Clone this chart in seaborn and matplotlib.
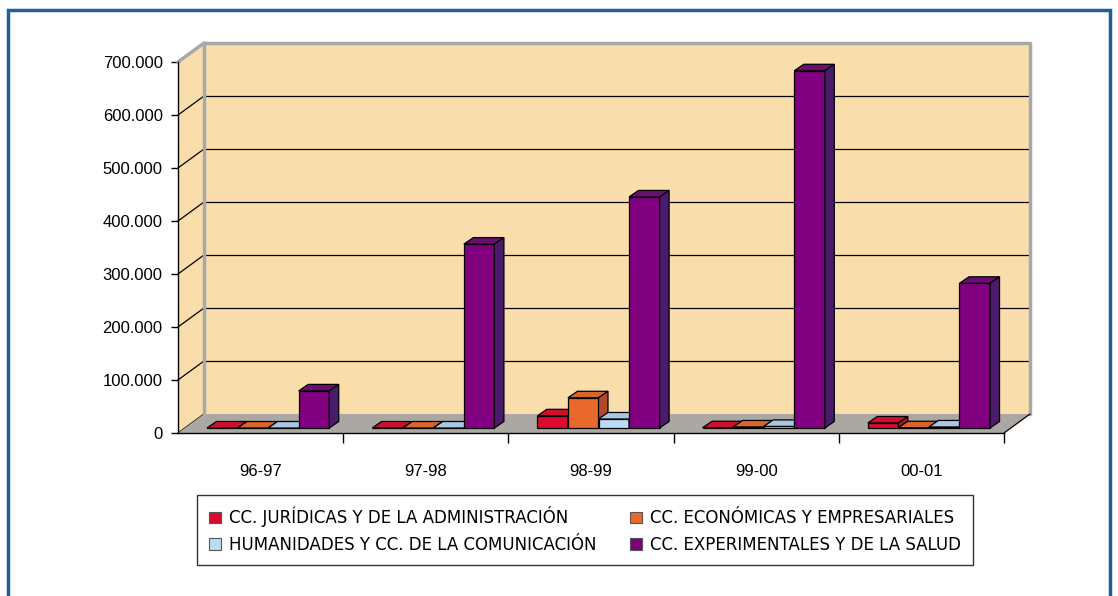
import numpy as np
import pandas as pd
import seaborn as sns
import matplotlib.pyplot as plt
from matplotlib.patches import Polygon, Rectangle, Patch
from matplotlib.lines import Line2D
from matplotlib.transforms import Affine2D, IdentityTransform
from matplotlib.ticker import FuncFormatter, MultipleLocator, FixedLocator

cursos = ['96-97', '97-98', '98-99', '99-00', '00-01']
areas = ['CC. JURÍDICAS Y DE LA ADMINISTRACIÓN',
         'CC. ECONÓMICAS Y EMPRESARIALES',
         'HUMANIDADES Y CC. DE LA COMUNICACIÓN',
         'CC. EXPERIMENTALES Y DE LA SALUD']
juridicas = [0, 0, 23000, 500, 9500]
economicas = [0, 0, 57000, 2000, 500]
humanidades = [0, 0, 17000, 3000, 2000]
experimentales = [70000, 347000, 436000, 674000, 273000]

# colours: front face, top face, side face
front_c = ['#DC0A2E', '#E8692B', '#BBDCF3', '#800080']
top_c = ['#CF0E30', '#D8652A', '#A7C7E2', '#6A0E72']
side_c = ['#A2142E', '#B0492E', '#8DAFCD', '#4A1A6B']
wheat = '#F9DEAC'
floor_gray = '#ABA8A3'

df = pd.DataFrame(dict(zip(areas, [juridicas, economicas, humanidades, experimentales])),
                  index=cursos).reset_index(names='curso')
df = df.melt(id_vars='curso', var_name='area', value_name='valor')

sns.set_theme(style='white')
plt.rcParams['font.family'] = ['Liberation Sans', 'DejaVu Sans']
plt.rcParams['text.color'] = 'black'
plt.rcParams['xtick.color'] = 'black'
plt.rcParams['ytick.color'] = 'black'
plt.rcParams['xtick.labelcolor'] = 'black'
plt.rcParams['ytick.labelcolor'] = 'black'

W, H = 1118, 596
fig = plt.figure(figsize=(W / 100, H / 100), dpi=100)
ax = fig.add_axes([178 / W, 1 - 433 / H, (1004 - 178) / W, (433 - 62) / H])
ax.patch.set_visible(False)

sns.barplot(data=df, x='curso', y='valor', hue='area', hue_order=areas,
            palette=dict(zip(areas, front_c)), width=0.74, gap=0, saturation=1,
            edgecolor='black', linewidth=0.9, legend=False, ax=ax)
ax.set_xlim(-0.5, 4.5)
ax.set_ylim(0, 700000)
ymax = 700000

# pseudo 3D geometry (pixels)
wall_t = ax.transData + Affine2D().translate(26, 19)
front_t = ax.transData + Affine2D().translate(7.5, 5)
depth = np.array([9.5, 6.5])

# back wall
ax.add_patch(Rectangle((-0.5, 0), 5, ymax, transform=wall_t, facecolor=wheat,
                       edgecolor='none', zorder=0, clip_on=False))
for v in range(100000, ymax, 100000):
    ax.plot([-0.5, 4.5], [v, v], transform=wall_t, color='black', lw=0.9,
            zorder=1, clip_on=False)
ax.plot([-0.5, -0.5, 4.5, 4.5], [0, ymax, ymax, 0], transform=wall_t,
        color='#A8A8A8', lw=2.5, zorder=1.5, clip_on=False)

# side wall and floor
fl = ax.transData.transform([(-0.5, 0), (-0.5, ymax), (4.5, 0)])
bl = wall_t.transform([(-0.5, 0), (-0.5, ymax), (4.5, 0)])
ax.add_patch(Polygon([fl[0], fl[1], bl[1], bl[0]], transform=IdentityTransform(),
                     facecolor=wheat, edgecolor='none', zorder=0, clip_on=False))
for v in range(0, ymax, 100000):
    a = ax.transData.transform((-0.5, v))
    b = wall_t.transform((-0.5, v))
    ax.add_line(Line2D([a[0], b[0]], [a[1], b[1]], transform=IdentityTransform(),
                       color='black', lw=0.9, zorder=1, clip_on=False))
ax.add_line(Line2D([fl[1][0], bl[1][0]], [fl[1][1], bl[1][1]], transform=IdentityTransform(),
                   color='#A8A8A8', lw=2.5, zorder=1.5, clip_on=False))
ax.add_patch(Polygon([fl[0], fl[2], bl[2], bl[0]], transform=IdentityTransform(),
                     facecolor=floor_gray, edgecolor='none', zorder=2, clip_on=False))
ax.add_line(Line2D([fl[2][0], bl[2][0]], [fl[2][1], bl[2][1]], transform=IdentityTransform(),
                   color='black', lw=0.9, zorder=2.5, clip_on=False))

# bars: front face from seaborn, top and side faces from its geometry
for i, cont in enumerate(ax.containers):
    for bar in cont:
        x, y, w, h = bar.get_x(), bar.get_y(), bar.get_width(), bar.get_height()
        z = 5 + (x + w / 2) * 0.1
        bar.set_transform(front_t)
        bar.set_zorder(z)
        bar.set_clip_on(False)
        p = front_t.transform([(x, y), (x + w, y), (x + w, y + h), (x, y + h)])
        top = [p[3], p[2], p[2] + depth, p[3] + depth]
        side = [p[1], p[2], p[2] + depth, p[1] + depth]
        ax.add_patch(Polygon(top, transform=IdentityTransform(), facecolor=top_c[i],
                             edgecolor='black', lw=0.9, zorder=z, clip_on=False))
        ax.add_patch(Polygon(side, transform=IdentityTransform(), facecolor=side_c[i],
                             edgecolor='black', lw=0.9, zorder=z, clip_on=False))

# axes
for s in ['top', 'right']:
    ax.spines[s].set_visible(False)
for s in ['left', 'bottom']:
    ax.spines[s].set_color('black')
    ax.spines[s].set_linewidth(1)
    ax.spines[s].set_zorder(3)
ax.yaxis.set_major_locator(MultipleLocator(100000))
ax.yaxis.set_major_formatter(FuncFormatter(lambda v, p: f'{int(v):,}'.replace(',', '.')))
ax.tick_params(axis='y', direction='out', length=5, width=1, color='black',
               labelcolor='black', labelsize=12, pad=6, left=True)
ax.xaxis.set_minor_locator(FixedLocator([0.5, 1.5, 2.5, 3.5, 4.5]))
ax.tick_params(axis='x', which='major', length=0, labelsize=12, pad=22, labelcolor='black')
ax.tick_params(axis='x', which='minor', direction='out', length=7, width=1,
               color='black', bottom=True)
ax.set_xlabel('')
ax.set_ylabel('')

# legend
order = [0, 2, 1, 3]
handles = [Patch(facecolor=front_c[k], edgecolor='#555555', lw=0.8) for k in order]
labels = [areas[k] for k in order]
leg = fig.legend(handles, labels, loc='center', bbox_to_anchor=(585 / W, 1 - 530 / H),
                 ncol=2, frameon=True, fancybox=False, edgecolor='black',
                 prop={'family': ['Liberation Sans Narrow', 'DejaVu Sans'], 'size': 12},
                 handlelength=0.7, handleheight=0.7, handletextpad=0.5,
                 columnspacing=2.0, borderpad=0.7, labelspacing=0.5)
leg.get_frame().set_linewidth(1)
for t in leg.get_texts():
    t.set_color('black')

# outer frame
fig.patches.append(Rectangle((8 / W, -0.05), (1110 - 8) / W, 1 - 10 / H + 0.05,
                             transform=fig.transFigure, fill=False,
                             edgecolor='#1F5E99', lw=2.5))

fig.savefig('out.png', dpi=100)
